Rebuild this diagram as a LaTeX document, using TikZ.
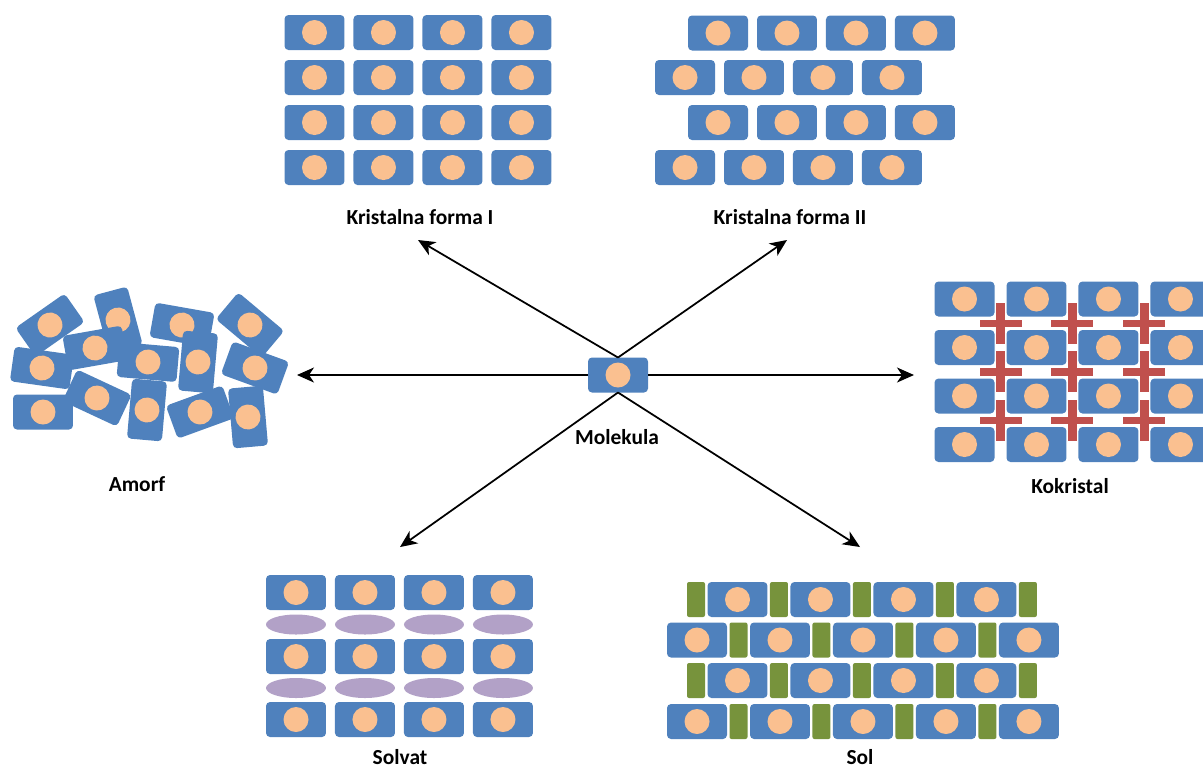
\documentclass[tikz,border=0pt]{standalone}
\usepackage{fontspec}
\setmainfont{Carlito}
\usetikzlibrary{arrows.meta,calc,chains,positioning,scopes,shapes.geometric}
\definecolor{molblue}{RGB}{79,129,189}
\definecolor{molcore}{RGB}{250,192,144}
\definecolor{saltgreen}{RGB}{119,147,60}
\definecolor{coformred}{RGB}{192,80,77}
\definecolor{solvpurple}{RGB}{178,161,199}
\def\drawplus#1{
   \fill[coformred] (#1) +(-21,-3.75) rectangle +(21,3.75);
   \fill[coformred] (#1) +(-4.5,-20.5) rectangle +(4.5,20.5);
}
\begin{document}
\begin{tikzpicture}[
    x = 0.02cm, y = -0.02cm,
    box/.style  = { rectangle, minimum width=1.2cm, minimum height=0.7cm,
       inner sep=0pt, outer sep=0pt, fill=molblue, rounded corners=0.08cm,
       path picture={\fill[molcore] (path picture bounding box.center) circle (0.25cm);} },
    cbox/.style = { box, on chain },
    gbar/.style = { rectangle, minimum width=0.36cm, minimum height=0.7cm,
       inner sep=0pt, outer sep=0pt, fill=saltgreen, rounded corners=0.04cm, on chain },
    solvent/.style = { ellipse, minimum width=1.2cm, minimum height=0.4cm,
       inner sep=0pt, fill=solvpurple },
    lbl/.style = { font=\bfseries\fontsize{12.2}{14}\selectfont },
    arr/.style = { line width=1pt, -{Stealth[length=0.34cm,width=0.3cm,inset=0.1cm]} }
]
\clip (0,0) rectangle (1203,769);

% Molekula
\node[box] (mol) at (618,375) {};
\node[lbl] (lmol) at (617,437) {Molekula};

% Kristalna forma I
\foreach \r/\y in {1/32.5,2/77.5,3/122.5,4/167.5}
{
  \begin{scope}[shift={(314.5,\y)}, node distance=0.18cm,
                start chain/.expanded={fI\r\space going right}]
    \foreach \t in {cbox,cbox,cbox,cbox} \node[\t] {};
  \end{scope}
}
\node[lbl] (lI) at (420,217) {Kristalna forma I};

% Kristalna forma II
\foreach \r/\x/\y in {1/718/33,2/685/77.5,3/718/122.5,4/685/167.5}
{
  \begin{scope}[shift={(\x,\y)}, node distance=0.18cm,
                start chain/.expanded={fII\r\space going right}]
    \foreach \t in {cbox,cbox,cbox,cbox} \node[\t] {};
  \end{scope}
}
\node[lbl] (lII) at (790,217) {Kristalna forma II};

% Amorf
\foreach[count=\n] \x/\y/\a in {50/325/35, 118/320/105, 182/325/-10, 250/325/-40,
    95/348/10, 42/368/-8, 148/362/-5, 198/362/85, 255/368/-20,
    43/412/0, 97/398/-25, 147/410/85, 200/412/20, 248/417/95}
  \node[box, rotate=\a] (am\n) at (\x,\y) {};
\node[lbl] (lA) at (137,484) {Amorf};

% Kokristal
\foreach \r/\y in {1/299,2/347.5,3/396,4/444.5}
{
  \begin{scope}[shift={(964.5,\y)}, node distance=0.24cm,
                start chain/.expanded={kk\r\space going right}]
    \foreach \t in {cbox,cbox,cbox,cbox} \node[\t] {};
  \end{scope}
}
\foreach \r in {1,2,3}
  \foreach \c in {1,2,3}
  {
    \pgfmathtruncatemacro\s{\r+1}
    \pgfmathtruncatemacro\d{\c+1}
    \drawplus{$(kk\r-\c)!.5!(kk\s-\d)$}
  }
\node[lbl] (lK) at (1070,486) {Kokristal};

% Solvat
\foreach \r/\y in {1/592.5,2/656.5,3/719.5}
{
  \begin{scope}[shift={(296,\y)}, node distance=0.18cm,
                start chain/.expanded={sv\r\space going right}]
    \foreach \t in {cbox,cbox,cbox,cbox} \node[\t] {};
  \end{scope}
}
\foreach \c in {1,...,4}
{
  \node[solvent] (el1-\c) at ($(sv1-\c)!.5!(sv2-\c)$) {};
  \node[solvent] (el2-\c) at ($(sv2-\c)!.5!(sv3-\c)$) {};
}
\node[lbl] (lS) at (400,757) {Solvat};

% Sol
\foreach \r/\x/\y in {1/696/599.5,3/696/680.5}
{
  \begin{scope}[shift={(\x,\y)}, node distance=0.05cm,
                start chain/.expanded={sl\r\space going right}]
    \foreach \t in {gbar,cbox,gbar,cbox,gbar,cbox,gbar,cbox,gbar} \node[\t] {};
  \end{scope}
}
\foreach \r/\x/\y in {2/697/640,4/697/721.5}
{
  \begin{scope}[shift={(\x,\y)}, node distance=0.05cm,
                start chain/.expanded={sl\r\space going right}]
    \foreach \t in {cbox,gbar,cbox,gbar,cbox,gbar,cbox,gbar,cbox} \node[\t] {};
  \end{scope}
}
\node[lbl] (lSol) at (860,757) {Sol};

% strelice
\coordinate (tipI)   at (418,240);
\coordinate (tipII)  at (787,240);
\coordinate (tipA)   at (297,375);
\coordinate (tipK)   at (914,375);
\coordinate (tipS)   at (400,547);
\coordinate (tipSol) at (860,547);
\draw[arr] (mol.north) -- (tipI);
\draw[arr] (mol.north) -- (tipII);
\draw[arr] (mol.west)  -- (tipA);
\draw[arr] (mol.east)  -- (tipK);
\draw[arr] (mol.south) -- (tipS);
\draw[arr] (mol.south) -- (tipSol);

\end{tikzpicture}
\end{document}
